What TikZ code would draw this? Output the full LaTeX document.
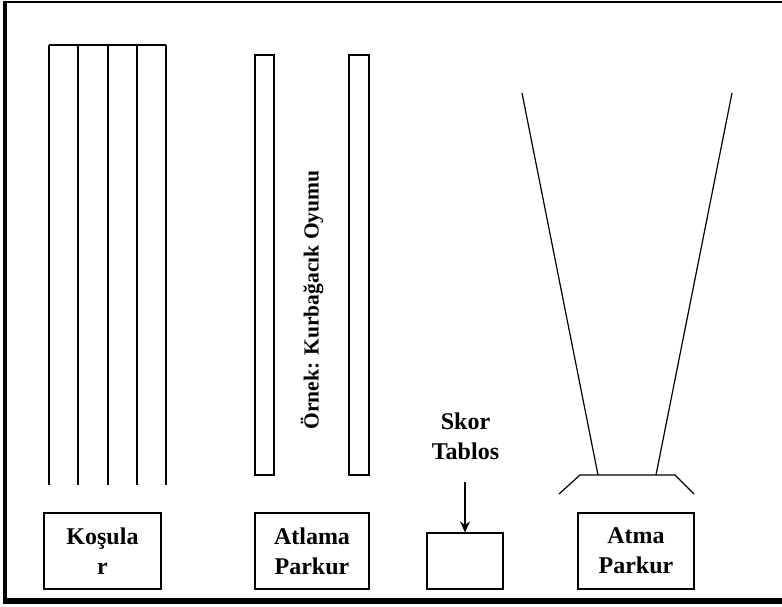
\documentclass[tikz,border=0pt]{standalone}
\usepackage{fontspec}
\setmainfont{Liberation Serif}
\usetikzlibrary{arrows.meta}
\begin{document}
\begin{tikzpicture}[>={Stealth[length=11pt,width=10pt]},x=1pt,y=-1pt,
	box/.style={draw,line width=1.2pt,inner sep=0pt,align=center,font=\fontsize{24}{30}\selectfont\bfseries},
	strip/.style={line width=1.2pt}]
		\useasboundingbox (0,0) rectangle (782,607);
		\draw[line width=1.5pt] (5,2) -- (782,2);
		\draw[line width=4pt] (5,1) -- (5,601);
		\draw[line width=6pt] (3,601) -- (782,601);
		% kosu kulvarlari
		\foreach \x in {49,78,108,137,166} \draw[strip] (\x,45) -- (\x,485);
		\draw[strip] (49,45) -- (166,45);
		\node[box,minimum width=117,minimum height=76] (kosu) at (102.5,551) {Koşula\\r};
		% atlama
		\draw[strip] (255,55) rectangle (274,475);
		\draw[strip] (349,55) rectangle (369,475);
		\node[rotate=90,font=\fontsize{21.5}{26}\selectfont\bfseries] (ornek) at (312,300) {Örnek: Kurbağacık Oyumu};
		\node[box,minimum width=114,minimum height=76] (atla) at (312,551) {Atlama\\Parkur};
		% skor
		\node[align=center,font=\fontsize{24}{30}\selectfont\bfseries] (skor) at (465.5,436) {Skor\\Tablos};
		\node[box,minimum width=76,minimum height=56] (tablo) at (465,561) {};
		\coordinate (ok) at (465,482);
		\draw[->,line width=1.2pt] (ok) -- (tablo.north);
		% atma
		\draw[strip] (522,93) -- (598,475);
		\draw[strip] (732,93) -- (656,475);
		\draw[strip] (559,494) -- (580,475) -- (675,475) -- (694,494);
		\node[box,minimum width=116,minimum height=76] (atma) at (636,551) {Atma\\Parkur};
\end{tikzpicture}
\end{document}
